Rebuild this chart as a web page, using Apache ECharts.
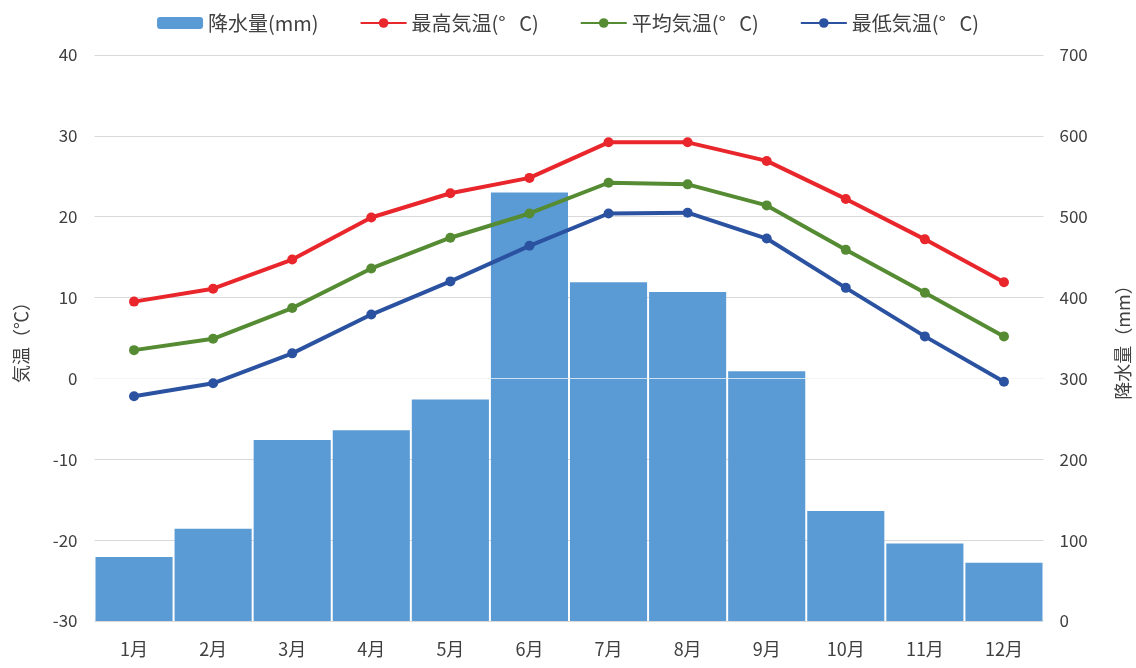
<!DOCTYPE html>
<html>
<head>
<meta charset="utf-8">
<script src="https://cdn.jsdelivr.net/npm/echarts@6/dist/echarts.min.js"></script>
<style>
html,body{margin:0;padding:0;background:#fff;}
#c{width:1136px;height:668px;}
</style>
</head>
<body>
<div id="c"></div>
<script>
var months = ['1月','2月','3月','4月','5月','6月','7月','8月','9月','10月','11月','12月'];
var precipitation = [79, 114, 224, 236, 274, 530, 419, 407, 309, 136, 96, 72];
var tempMax = [9.5, 11.1, 14.7, 19.9, 22.9, 24.8, 29.2, 29.2, 26.9, 22.2, 17.2, 11.9];
var tempAvg = [3.5, 4.9, 8.7, 13.6, 17.4, 20.4, 24.2, 24.0, 21.4, 15.9, 10.6, 5.2];
var tempMin = [-2.2, -0.6, 3.1, 7.9, 12.0, 16.4, 20.4, 20.5, 17.3, 11.2, 5.2, -0.4];
var names = ['降水量(mm)', '最高気温(°   C)', '平均気温(°   C)', '最低気温(°   C)'];

var font = '"Noto Sans CJK JP", "Noto Sans", sans-serif';
var chart = echarts.init(document.getElementById('c'));
function lineSeries(name, data, color) {
  return {
    name: name, type: 'line', yAxisIndex: 0, data: data,
    symbol: 'circle', symbolSize: 10,
    lineStyle: { color: color, width: 4 },
    itemStyle: { color: color },
    z: 5
  };
}
chart.setOption({
  animation: false,
  textStyle: { fontFamily: font },
  legend: {
    top: 8, left: 'center', itemGap: 41, itemWidth: 46, itemHeight: 12,
    textStyle: { fontSize: 20, color: '#404040', fontFamily: font },
    data: names
  },
  grid: { left: 94.5, right: 92.5, top: 55, bottom: 47, outerBoundsMode: 'none' },
  xAxis: {
    type: 'category', data: months,
    axisLine: { show: false }, axisTick: { show: false },
    axisLabel: { fontSize: 18, color: '#404040', margin: 19 }
  },
  yAxis: [{
    type: 'value', min: -30, max: 40, interval: 10,
    name: '気温（℃）', nameLocation: 'middle', nameRotate: 90, nameGap: 64,
    nameTextStyle: { fontSize: 18, color: '#404040' },
    axisLabel: { fontSize: 17, color: '#404040', margin: 17 },
    axisLine: { show: false }, axisTick: { show: false },
    splitLine: { lineStyle: { color: '#d9d9d9', width: 1 } }
  }, {
    type: 'value', min: 0, max: 700, interval: 100,
    name: '降水量（mm）', nameLocation: 'middle', nameRotate: 90, nameGap: 71,
    nameTextStyle: { fontSize: 18, color: '#404040' },
    axisLabel: { fontSize: 17, color: '#404040', margin: 16 },
    axisLine: { show: false }, axisTick: { show: false },
    splitLine: { show: false }
  }],
  series: [{
    name: names[0], type: 'bar', yAxisIndex: 1, data: precipitation,
    barCategoryGap: '2.5%',
    itemStyle: { color: '#5b9bd5' },
    markLine: {
      silent: true, symbol: 'none', label: { show: false },
      lineStyle: { color: 'rgba(255,255,255,0.7)', width: 1, type: 'solid' },
      data: [{ yAxis: 300 }]
    },
    z: 2
  },
  lineSeries(names[1], tempMax, '#e8262b'),
  lineSeries(names[2], tempAvg, '#558b32'),
  lineSeries(names[3], tempMin, '#2b52a0')
  ]
});
</script>
</body>
</html>
